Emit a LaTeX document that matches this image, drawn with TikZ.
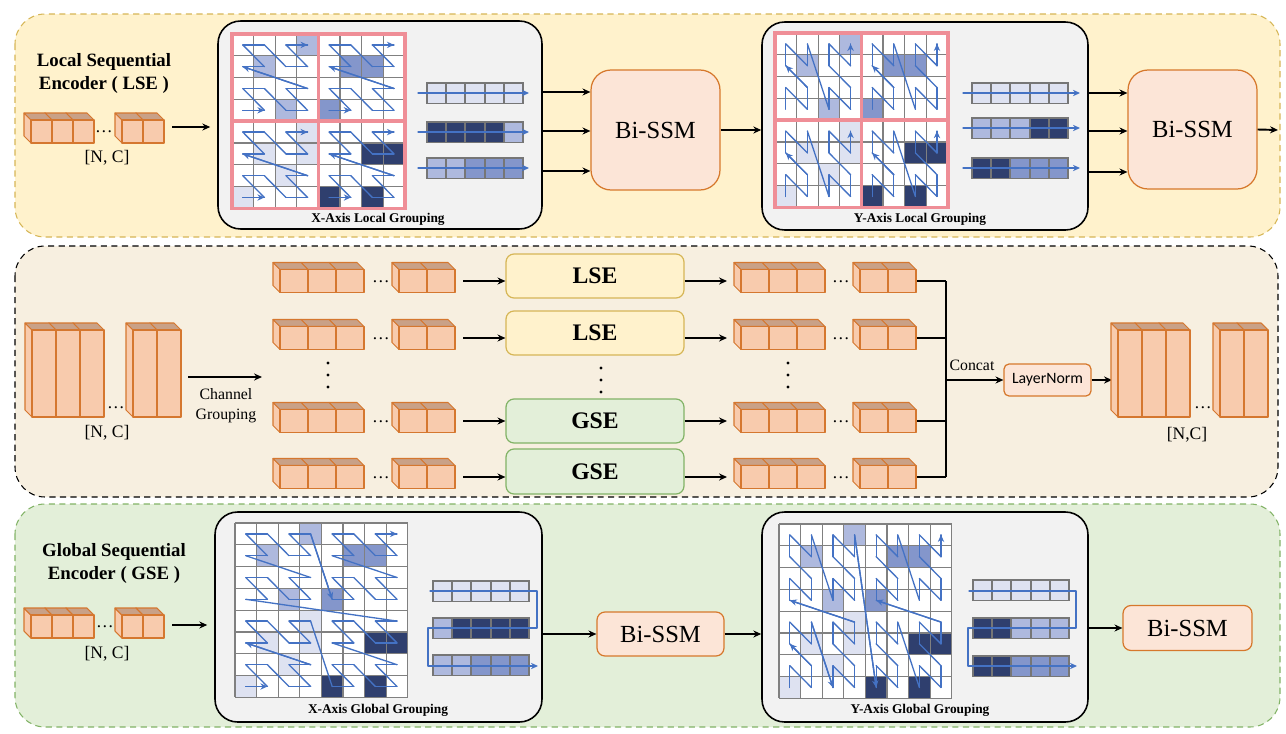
\documentclass[tikz,border=0pt]{standalone}
\usepackage{fontspec}
\setmainfont{Liberation Serif}
\newfontfamily\calibri{Carlito}
\usetikzlibrary{arrows.meta}

\definecolor{ltc}{HTML}{DEE2F1}
\definecolor{mdA}{HTML}{AEB9DE}
\definecolor{mdB}{HTML}{8496CB}
\definecolor{dkc}{HTML}{2F3F6E}
\definecolor{scanblue}{HTML}{4472C4}
\definecolor{gridgray}{HTML}{808080}
\definecolor{bargray}{HTML}{767676}
\definecolor{pinkq}{HTML}{EF8E97}
\definecolor{lsefill}{HTML}{FFF2CC}
\definecolor{lsedraw}{HTML}{D6B656}
\definecolor{midfill}{HTML}{F7EFE0}
\definecolor{gsefill}{HTML}{E3EFD9}
\definecolor{gsedraw}{HTML}{82B366}
\definecolor{boxgray}{HTML}{F2F2F2}
\definecolor{ssmfill}{HTML}{FCE5D7}
\definecolor{ssmdraw}{HTML}{D6782C}
\definecolor{cubeF}{HTML}{F8CBAD}
\definecolor{cubeT}{HTML}{C9A187}
\definecolor{cubeL}{HTML}{D5772F}

\tikzset{
  panel/.style={rounded corners=0.6cm, dash pattern=on 3.5pt off 2.5pt, line width=0.6pt},
  groupbox/.style={draw=black, fill=boxgray, rounded corners=0.45cm, line width=0.9pt},
  ssmbox/.style={draw=ssmdraw, fill=ssmfill, line width=0.7pt, font=\fontsize{14}{16}\selectfont},
  lsebox/.style={draw=lsedraw, fill=lsefill, rounded corners=0.16cm, line width=0.7pt,
    minimum width=3.56cm, minimum height=0.88cm, font=\fontsize{13.5}{16}\selectfont\bfseries},
  gsebox/.style={lsebox, draw=gsedraw, fill=gsefill},
  lnbox/.style={draw=ssmdraw, fill=ssmfill, rounded corners=0.1cm, line width=0.7pt,
    minimum width=1.74cm, minimum height=0.64cm, font=\calibri\fontsize{9}{11}\selectfont},
  title/.style={align=center, font=\fontsize{10.7}{13}\selectfont\bfseries},
  dimtext/.style={font=\fontsize{10}{12}\selectfont},
  smalltext/.style={align=center, font=\fontsize{9}{11.3}\selectfont},
  caption/.style={font=\fontsize{7.6}{9}\selectfont\bfseries},
  arr/.style={-{Stealth[length=4.5pt,width=4pt]}, line width=1.1pt},
  catline/.style={line width=1.1pt},
  scan/.style={draw=scanblue, line width=0.75pt, line cap=round, line join=round},
  scanarrow/.style={-{Stealth[length=4pt,width=3.6pt]}},
  gridline/.style={draw=gridgray, line width=0.7pt},
  quadline/.style={draw=pinkq, line width=2pt},
  barcell/.style={draw=bargray, line width=1.1pt},
  cubefront/.style={draw=cubeL, fill=cubeF, line width=0.6pt, line join=round},
  cubeside/.style={draw=cubeL, fill=cubeF, line width=0.6pt, line join=round},
  cubetop/.style={draw=cubeL, fill=cubeT, line width=0.6pt, line join=round},
}

\def\cellw{21.6}
\def\cellh{21.8}

% one cube: front top-left corner, width, height
\newcommand\cubeat[4]{%
  \filldraw[cubeside] (#1,#2) -- (#1-7,#2-7) -- (#1-7,#2+#4-7) -- (#1,#2+#4) -- cycle;
  \filldraw[cubetop] (#1,#2) -- (#1-7,#2-7) -- (#1+#3-7,#2-7) -- (#1+#3,#2) -- cycle;
  \filldraw[cubefront] (#1,#2) rectangle (#1+#3,#2+#4);}
\newcommand\cuberow[5]{%
  \foreach \i in {#5,...,0} \cubeat{#1+\i*#3}{#2}{#3}{#4};}

% scan order: index, grid size, mode (0 = x-axis, 1 = y-axis)
\newcommand\cellof[3]{%
  \pgfmathtruncatemacro\scnu{mod(#1,2)+2*mod(div(#1,4),2)+4*mod(div(#1,16),2)}%
  \pgfmathtruncatemacro\scnv{mod(div(#1,2),2)+2*mod(div(#1,8),2)+4*mod(div(#1,32),2)}%
  \ifnum#3=0 \let\scnc\scnu\pgfmathtruncatemacro\scnr{#2-1-\scnv}%
  \else\let\scnc\scnv\pgfmathtruncatemacro\scnr{#2-1-\scnu}\fi}
\newcommand\scanseg[6]{%
  \pgfmathtruncatemacro\scnkp{#5-1}%
  \cellof{\scnkp}{#3}{#4}\let\scnca\scnc\let\scnra\scnr
  \cellof{#5}{#3}{#4}%
  \draw[scan,#6] (#1+\scnca*\cellw+0.5*\cellw,#2+\scnra*\cellh+0.5*\cellh)
    -- (#1+\scnc*\cellw+0.5*\cellw,#2+\scnr*\cellh+0.5*\cellh);}

\newcommand\scangrid[2]{%
  \fill[white] (#1,#2) rectangle ++(8*\cellw,8*\cellh);
  \foreach \gr/\gc/\gk in {0/3/mdA,1/1/mdA,3/2/mdA,1/5/mdB,1/6/mdB,3/4/mdB,
      4/3/ltc,5/1/ltc,5/3/ltc,6/2/ltc,7/0/ltc,5/6/dkc,5/7/dkc,7/4/dkc,7/6/dkc}
    \fill[\gk] (#1+\gc*\cellw,#2+\gr*\cellh) rectangle ++(\cellw,\cellh);
  \foreach \i in {0,...,8} {
    \draw[gridline] (#1+\i*\cellw,#2) -- ++(0,8*\cellh);
    \draw[gridline] (#1,#2+\i*\cellh) -- ++(8*\cellw,0);}}
\newcommand\quads[2]{%
  \foreach \qr in {0,1} \foreach \qc in {0,1}
    \draw[quadline] (#1+\qc*4*\cellw,#2+\qr*4*\cellh) rectangle ++(4*\cellw,4*\cellh);}
\newcommand\localscan[4]{%
  \foreach \qr in {0,1} \foreach \qc in {0,1} {
    \foreach \k in {1,...,15} \scanseg{#1+\qc*4*\cellw}{#2+\qr*4*\cellh}{4}{#3}{\k}{};
    \foreach \k in {#4} \scanseg{#1+\qc*4*\cellw}{#2+\qr*4*\cellh}{4}{#3}{\k}{scanarrow};}}
\newcommand\globalscan[4]{%
  \foreach \k in {1,...,63} \scanseg{#1}{#2}{8}{#3}{\k}{};
  \foreach \k in {#4} \scanseg{#1}{#2}{8}{#3}{\k}{scanarrow};}
\newcommand\seqbar[3]{%
  \foreach \bc [count=\bi from 0] in {#3}
    \filldraw[barcell,fill=\bc] (#1+\bi*19.2,#2) rectangle ++(19.2,20.5);}

\begin{document}
\begin{tikzpicture}[x=0.02cm, y=-0.02cm]
  \useasboundingbox (0,0) rectangle (1286,734);

  % panels
  \filldraw[panel, draw=lsedraw, fill=lsefill] (15,14) rectangle (1280,237);
  \filldraw[panel, draw=black, fill=midfill] (15,246) rectangle (1278,497);
  \filldraw[panel, draw=gsedraw, fill=gsefill] (15,504) rectangle (1280,727);

  % ---------- local sequential encoder ----------
  \node[title] (lsetitle) at (104,73.5) {Local Sequential\\Encoder ( LSE )};
  \cuberow{31}{120}{21}{23}{2}
  \cuberow{122}{120}{21}{23}{1}
  \node[dimtext] (lsedots) at (104,132) {\ldots};
  \node[dimtext] (lsedim) at (107,158) {[N, C]};
  \coordinate (lsein) at (172,127);

  \node[groupbox, minimum width=6.48cm, minimum height=4.16cm] (xloc) at (380,125) {};
  \node[caption] (xloccap) at (378,219) {X-Axis Local Grouping};
  \scangrid{232}{34}
  \quads{232}{34}
  \localscan{232}{34}{0}{1,8,15}
  \seqbar{427}{83}{ltc,ltc,ltc,ltc,ltc}
  \seqbar{427}{122}{dkc,dkc,dkc,dkc,mdA}
  \seqbar{427}{158}{mdA,mdA,mdB,mdB,mdB}
  \foreach \y in {93,132,168} \draw[scan,scanarrow] (418,\y) -- (529,\y);

  \node[ssmbox, rounded corners=0.4cm, minimum width=2.58cm, minimum height=2.4cm] (bssm1) at (655.5,130) {Bi-SSM};

  \node[groupbox, minimum width=6.52cm, minimum height=4.16cm] (yloc) at (925,126) {};
  \node[caption] (yloccap) at (920,219) {Y-Axis Local Grouping};
  \scangrid{775}{33}
  \quads{775}{33}
  \localscan{775}{33}{1}{4,15}
  \seqbar{972}{83}{ltc,ltc,ltc,ltc,ltc}
  \seqbar{972}{118}{mdA,mdA,mdA,dkc,dkc}
  \seqbar{972}{158}{dkc,dkc,mdB,mdB,mdB}
  \foreach \y in {93,128,168} \draw[scan,scanarrow] (963,\y) -- (1080,\y);

  \node[ssmbox, rounded corners=0.4cm, minimum width=2.58cm, minimum height=2.38cm] (bssm2) at (1192.5,129.5) {Bi-SSM};
  \coordinate (lseout) at (1278,130);

  \draw[arr, shorten >=4pt] (lsein) -- (xloc.west |- lsein);
  \foreach \y [count=\n] in {92,131,171} {
    \coordinate (xo\n) at (0,\y);
    \draw[arr] (xloc.east |- xo\n) -- (bssm1.west |- xo\n);}
  \draw[arr] (bssm1.east) -- (yloc.west |- bssm1.east);
  \foreach \y [count=\n] in {93,131,172} {
    \coordinate (yo\n) at (0,\y);
    \draw[arr] (yloc.east |- yo\n) -- (bssm2.west |- yo\n);}
  \draw[arr] (bssm2.east) -- (lseout);

  % ---------- channel grouping ----------
  \cuberow{32}{330}{24}{87}{2}
  \cuberow{133}{330}{24}{87}{1}
  \node[dimtext] (indots) at (116,408) {\ldots};
  \node[dimtext] (indim) at (107,433) {[N, C]};
  \coordinate (cgin) at (188,377);
  \coordinate (cgout) at (262,377);
  \draw[arr] (cgin) -- (cgout);
  \node[smalltext] (cglabel) at (226,406) {Channel\\Grouping};

  \foreach \ry [count=\n] in {281,338,421,477} {
    \cuberow{280}{\ry-11.5}{28}{23}{2}
    \cuberow{399}{\ry-11.5}{28}{23}{1}
    \node[dimtext] (ldots\n) at (381,\ry+1) {\ldots};
    \cuberow{741}{\ry-11.5}{28}{23}{2}
    \cuberow{860}{\ry-11.5}{28}{23}{1}
    \node[dimtext] (rdots\n) at (841,\ry+1) {\ldots};
    \coordinate (inR\n) at (463,\ry);
    \coordinate (outR\n) at (727,\ry);
    \coordinate (endR\n) at (917,\ry);}
  \foreach \x/\y in {328/363,328/375,328/387,601/368,601/380,601/392,788/363,788/375,788/387}
    \fill (\x,\y) circle (0.9pt);

  \node[lsebox] (lse1) at (595,276) {LSE};
  \node[lsebox] (lse2) at (595,333) {LSE};
  \node[gsebox] (gse1) at (595,421) {GSE};
  \node[gsebox, minimum height=0.9cm] (gse2) at (595,471.5) {GSE};
  \foreach \n/\b in {1/lse1,2/lse2,3/gse1,4/gse2} {
    \draw[arr] (inR\n) -- (\b.west |- inR\n);
    \draw[arr] (\b.east |- inR\n) -- (outR\n);}

  \coordinate (cat) at (946,380);
  \foreach \n in {1,...,4} \draw[catline] (endR\n) -- (endR\n -| cat);
  \draw[catline] (endR1 -| cat) -- (endR4 -| cat);
  \node[smalltext] (catlabel) at (972,365) {Concat};
  \node[lnbox] (ln) at (1047.5,380) {LayerNorm};
  \coordinate (ncin) at (1112,380);
  \draw[arr] (cat) -- (ln.west);
  \draw[arr] (ln.east) -- (ncin);
  \cuberow{1118}{330}{24}{87}{2}
  \cuberow{1220}{330}{24}{87}{1}
  \node[dimtext] (outdots) at (1203,408) {\ldots};
  \node[dimtext] (outdim) at (1187,435) {[N,C]};

  % ---------- global sequential encoder ----------
  \node[title] (gsetitle) at (114,563.5) {Global Sequential\\Encoder ( GSE )};
  \cuberow{31}{615}{21}{23}{2}
  \cuberow{122}{615}{21}{23}{1}
  \node[dimtext] (gsedots) at (105,627) {\ldots};
  \node[dimtext] (gsedim) at (107,654) {[N, C]};
  \coordinate (gsein) at (172,625);

  \node[groupbox, minimum width=6.54cm, minimum height=4.2cm] (xglo) at (378.5,617) {};
  \node[caption] (xglocap) at (378,710) {X-Axis Global Grouping};
  \scangrid{235}{523}
  \globalscan{235}{523}{0}{1,8,48,63}
  \seqbar{433}{581}{ltc,ltc,ltc,ltc,ltc}
  \seqbar{433}{618}{mdA,dkc,dkc,dkc,dkc}
  \seqbar{433}{655}{mdA,mdA,mdB,mdB,mdB}
  \draw[scan,scanarrow] (430,591) -- (537,591) -- (537,628) -- (428,628) -- (428,666) -- (538,666);

  \node[ssmbox, rounded corners=0.16cm, minimum width=2.54cm, minimum height=0.88cm] (bssm3) at (660.5,634) {Bi-SSM};

  \node[groupbox, minimum width=6.52cm, minimum height=4.2cm] (yglo) at (925,617) {};
  \node[caption] (yglocap) at (920,710) {Y-Axis Global Grouping};
  \scangrid{779}{524}
  \globalscan{779}{524}{1}{4,8,16,32,48,63}
  \seqbar{973}{580}{ltc,ltc,ltc,ltc,ltc}
  \seqbar{973}{618}{dkc,dkc,mdA,mdA,mdA}
  \seqbar{973}{656}{dkc,dkc,mdB,mdB,mdB}
  \draw[scan,scanarrow] (969,591) -- (1076,591) -- (1076,628) -- (968,628) -- (968,666) -- (1077,666);

  \node[ssmbox, rounded corners=0.16cm, minimum width=2.58cm, minimum height=0.9cm] (bssm4) at (1187.5,628) {Bi-SSM};

  \draw[arr, shorten >=4pt] (gsein) -- (xglo.west |- gsein);
  \draw[arr] (xglo.east |- bssm3.west) -- (bssm3.west);
  \draw[arr] (bssm3.east) -- (yglo.west |- bssm3.east);
  \draw[arr] (yglo.east |- bssm4.west) -- (bssm4.west);
\end{tikzpicture}
\end{document}
